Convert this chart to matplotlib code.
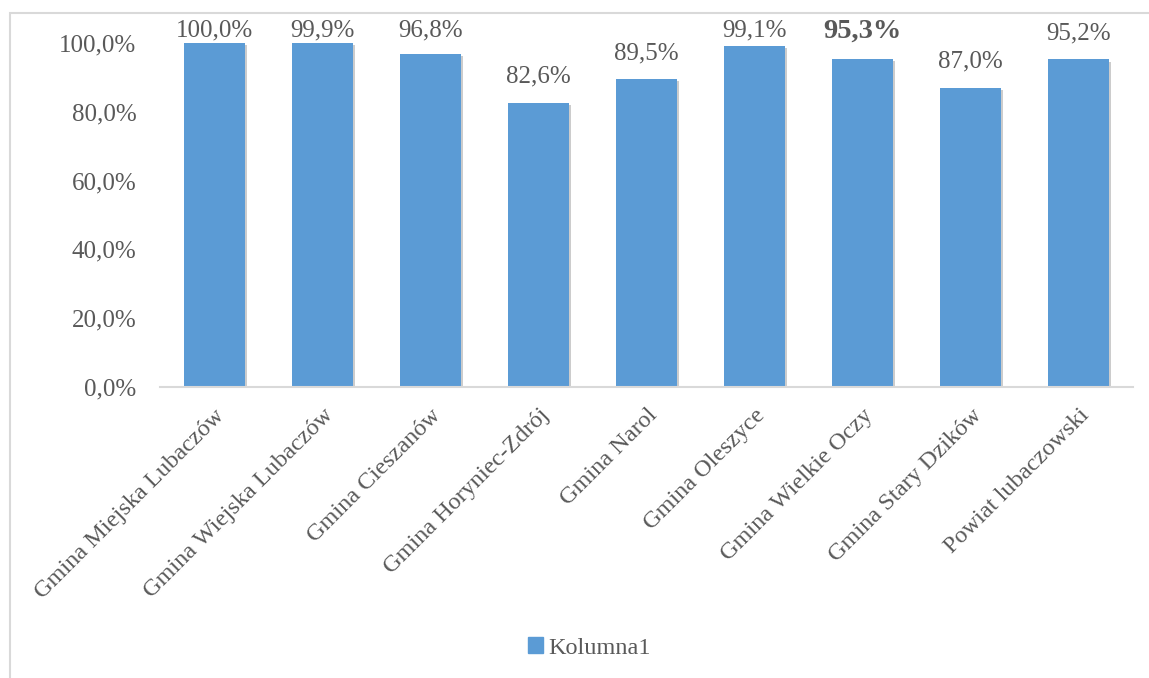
import numpy as np
import matplotlib.pyplot as plt
import matplotlib.patches as mpatches
import matplotlib.patheffects as pe
from matplotlib.ticker import FuncFormatter

categories = ['Gmina Miejska Lubaczów', 'Gmina Wiejska Lubaczów', 'Gmina Cieszanów',
              'Gmina Horyniec-Zdrój', 'Gmina Narol', 'Gmina Oleszyce',
              'Gmina Wielkie Oczy', 'Gmina Stary Dzików', 'Powiat lubaczowski']
values = [100.0, 99.9, 96.8, 82.6, 89.5, 99.1, 95.3, 87.0, 95.2]
bold_label = 'Gmina Wielkie Oczy'
series_name = 'Kolumna1'

plt.rcParams['font.family'] = ['Liberation Serif', 'DejaVu Serif']
txt = '#595959'
blue = '#5B9BD5'

fig = plt.figure(figsize=(11.49, 6.78), dpi=100)
ax = fig.add_axes([0.1393, 0.4292, 0.8467, 0.5074])

x = np.arange(len(categories))
bars = ax.bar(x, values, width=0.565, color=blue, label=series_name, zorder=2)
for b in bars:
    b.set_path_effects([pe.SimplePatchShadow(offset=(1.5, -1.5), shadow_rgbFace='#000000', alpha=0.2), pe.Normal()])

# labels sit a bit above each bar, but Excel pushes them down to stay inside the chart top
for xi, v, c in zip(x, values, categories):
    is_bold = c == bold_label
    ax.text(xi, min(v + 4.4, 100.4), ('%.1f%%' % v).replace('.', ','),
            ha='center', va='bottom', fontsize=20.5 if is_bold else 18, color=txt,
            fontweight='bold' if is_bold else 'normal', clip_on=False)

ax.set_xlim(-0.5, len(categories) - 0.5)
ax.set_ylim(0, 100)
ax.set_yticks(np.arange(0, 101, 20))
ax.yaxis.set_major_formatter(FuncFormatter(lambda v, p: ('%.1f%%' % v).replace('.', ',')))
ax.set_xticks(x)
ax.set_xticklabels(categories, rotation=45, ha='right', rotation_mode='anchor')
ax.tick_params(axis='y', length=0, pad=17, labelsize=18, labelcolor=txt)
ax.tick_params(axis='x', length=0, pad=13, labelsize=17.5, labelcolor=txt)

for s in ['top', 'right', 'left']:
    ax.spines[s].set_visible(False)
ax.spines['bottom'].set_color('#D9D9D9')
ax.spines['bottom'].set_linewidth(1.5)
ax.spines['bottom'].set_zorder(3)

fig.legend(handles=[mpatches.Patch(color=blue, label=series_name)], loc='center',
           bbox_to_anchor=(0.513, 1 - 648 / 678), frameon=False, fontsize=17.5,
           labelcolor=txt, handlelength=0.6, handleheight=0.6, handletextpad=0.2)

fig.patches.append(mpatches.Rectangle((10 / 1149, -0.05), 1.0, 1 - 13 / 678 + 0.05,
                                      transform=fig.transFigure, fill=False,
                                      edgecolor='#D9D9D9', linewidth=1.5))

fig.savefig('out.png', dpi=100)
